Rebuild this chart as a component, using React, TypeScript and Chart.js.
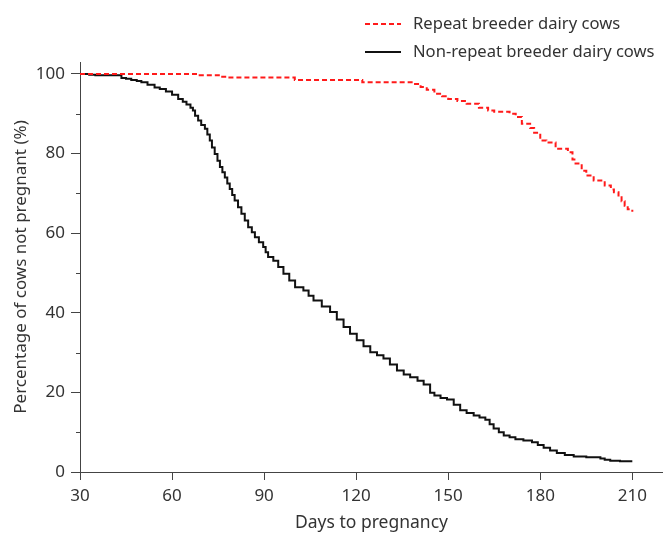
import { useEffect, useRef } from "react";
import { Chart, registerables } from "chart.js";

Chart.register(...registerables);

// ---- data ----
const seriesLabels = ["Repeat breeder dairy cows", "Non-repeat breeder dairy cows"];

const repeatDays = [30, 69, 76, 78, 100, 122, 138.5, 141, 143, 145.5, 148, 150, 153, 156, 160, 163, 165, 170, 172, 174, 176.7, 178, 180, 182, 185, 189, 190.5, 191.5, 193.5, 195, 197.4, 201, 203, 204, 205.5, 206.5, 207.5, 208.5, 210];
const repeatPct = [100, 99.7, 99.3, 99.1, 98.5, 97.9, 97.5, 96.7, 96.0, 95.0, 94.4, 93.7, 93.2, 92.5, 91.5, 90.8, 90.5, 90.0, 89.2, 87.5, 86.4, 85.2, 83.3, 82.8, 81.2, 80.3, 78.5, 77.5, 75.7, 74.5, 73.2, 72.0, 71.0, 70.3, 69.0, 68.0, 66.9, 66.0, 65.4];

const nonRepeatDays = [30, 33, 35, 43.5, 45, 46.7, 48.5, 50, 52, 54.3, 56, 58, 60, 62, 63.5, 64.7, 66, 66.8, 67.5, 68.5, 69.5, 70.7, 71.5, 72.3, 73, 73.9, 74.8, 75.6, 76.4, 77.2, 78, 78.8, 79.6, 80.4, 81.5, 82.6, 83.7, 84.8, 86, 87, 88.3, 89.7, 90.5, 91.3, 93, 94.6, 96.3, 98.2, 100.1, 102.8, 104.5, 106.1, 108.8, 111.5, 113.7, 115.9, 118, 120.2, 122.4, 124.6, 126.8, 128.9, 131, 133.3, 135.5, 137.6, 140, 142, 144.1, 145.5, 147.5, 149.6, 151.8, 153.9, 156, 158.3, 160.2, 162.1, 163.5, 164.8, 166.5, 168.1, 170, 171.9, 174.5, 177.3, 179.2, 181.1, 183.2, 185.4, 188, 190.9, 195, 199.6, 201, 202.8, 206, 210];
const nonRepeatPct = [100, 99.8, 99.7, 99.0, 98.8, 98.5, 98.2, 97.9, 97.3, 96.6, 96.2, 95.6, 94.8, 93.7, 93.0, 92.3, 91.5, 90.8, 89.5, 88.3, 87.2, 86.2, 84.8, 83.3, 81.5, 79.9, 78.2, 76.6, 75.3, 74.0, 72.5, 71.1, 69.6, 68.2, 66.5, 64.9, 63.2, 61.5, 60.2, 59.0, 57.7, 56.5, 55.2, 54.0, 53.1, 51.5, 49.8, 48.1, 46.4, 45.6, 44.3, 43.1, 41.6, 40.2, 38.3, 36.4, 34.7, 33.1, 31.6, 30.1, 29.3, 28.5, 27.0, 25.5, 24.5, 23.8, 22.9, 22.0, 19.9, 19.2, 18.6, 18.2, 16.9, 15.5, 14.8, 14.2, 13.7, 13.1, 12.0, 10.9, 10.0, 9.2, 8.7, 8.2, 7.9, 7.5, 6.8, 6.1, 5.4, 4.8, 4.3, 3.9, 3.7, 3.4, 3.1, 2.8, 2.7, 2.7];

const xRange = [30, 220];
const xStep = 30;
const yRange = [0, 103];
const yStep = 20;
const yMinorTicks = [10, 30, 50, 70, 90];

const xTitle = "Days to pregnancy";
const yTitle = "Percentage of cows not pregnant (%)";

const FONT = "'Noto Sans', sans-serif";
const TEXT = "#333333";
const AXIS = "#444444";

const minorTickPlugin = {
  id: "minorTicks",
  afterDraw(chart: any) {
    const y = chart.scales.y;
    const left = chart.chartArea.left;
    const ctx = chart.ctx;
    ctx.save();
    ctx.strokeStyle = AXIS;
    ctx.lineWidth = 1;
    for (const v of yMinorTicks) {
      const py = Math.round(y.getPixelForValue(v)) + 0.5;
      ctx.beginPath();
      ctx.moveTo(left - 4, py);
      ctx.lineTo(left, py);
      ctx.stroke();
    }
    ctx.restore();
  },
};

const legendPlugin = {
  id: "customLegend",
  afterDraw(chart: any) {
    const ctx = chart.ctx;
    const rows = [24, 52];
    ctx.save();
    chart.data.datasets.forEach((ds: any, i: number) => {
      const yy = rows[i];
      ctx.beginPath();
      ctx.strokeStyle = ds.borderColor;
      ctx.lineWidth = ds.borderWidth;
      ctx.setLineDash(ds.borderDash || []);
      ctx.moveTo(365, yy);
      ctx.lineTo(401, yy);
      ctx.stroke();
      ctx.setLineDash([]);
      ctx.fillStyle = TEXT;
      ctx.font = `16.6px ${FONT}`;
      ctx.textBaseline = "middle";
      ctx.textAlign = "left";
      ctx.fillText(ds.label, 413, yy);
    });
    ctx.restore();
  },
};

export default function App() {
  const ref = useRef<HTMLCanvasElement | null>(null);

  useEffect(() => {
    if (!ref.current) return;
    const chart = new Chart(ref.current, {
      type: "line",
      data: {
        datasets: [
          {
            label: seriesLabels[0],
            data: repeatDays.map((d, i) => ({ x: d, y: repeatPct[i] })),
            borderColor: "#ff1a1a",
            borderWidth: 2,
            borderDash: [5, 3],
            pointRadius: 0,
            stepped: true,
            fill: false,
          },
          {
            label: seriesLabels[1],
            data: nonRepeatDays.map((d, i) => ({ x: d, y: nonRepeatPct[i] })),
            borderColor: "#111111",
            borderWidth: 2,
            pointRadius: 0,
            stepped: true,
            fill: false,
          },
        ],
      },
      options: {
        animation: false,
        responsive: false,
        devicePixelRatio: 1,
        layout: { padding: { top: 62, left: 0, right: 0, bottom: 0 } },
        plugins: { legend: { display: false }, tooltip: { enabled: false } },
        scales: {
          x: {
            type: "linear",
            min: xRange[0],
            max: xRange[1],
            afterFit: (s: any) => {
              s.height = 65;
            },
            ticks: {
              stepSize: xStep,
              includeBounds: false,
              color: TEXT,
              font: { family: FONT, size: 17 },
              padding: 6,
              maxRotation: 0,
            },
            grid: { drawOnChartArea: false, drawTicks: true, tickLength: 8, color: AXIS },
            border: { display: true, color: AXIS, width: 1 },
            title: {
              display: true,
              text: xTitle,
              color: TEXT,
              font: { family: FONT, size: 17.5 },
              padding: { top: 0, bottom: 3 },
            },
          },
          y: {
            type: "linear",
            min: yRange[0],
            max: yRange[1],
            afterFit: (s: any) => {
              s.width = 80;
            },
            ticks: {
              stepSize: yStep,
              includeBounds: false,
              color: TEXT,
              font: { family: FONT, size: 17 },
              padding: 6,
            },
            grid: { drawOnChartArea: false, drawTicks: true, tickLength: 9, color: AXIS },
            border: { display: true, color: AXIS, width: 1 },
            title: {
              display: true,
              text: yTitle,
              color: TEXT,
              font: { family: FONT, size: 17 },
              padding: { top: 11, bottom: 0 },
            },
          },
        },
      },
      plugins: [minorTickPlugin, legendPlugin],
    });
    return () => chart.destroy();
  }, []);

  return (
    <div style={{ position: "absolute", left: 0, top: 0, width: 663, height: 537 }}>
      <canvas ref={ref} width={663} height={537} />
    </div>
  );
}
